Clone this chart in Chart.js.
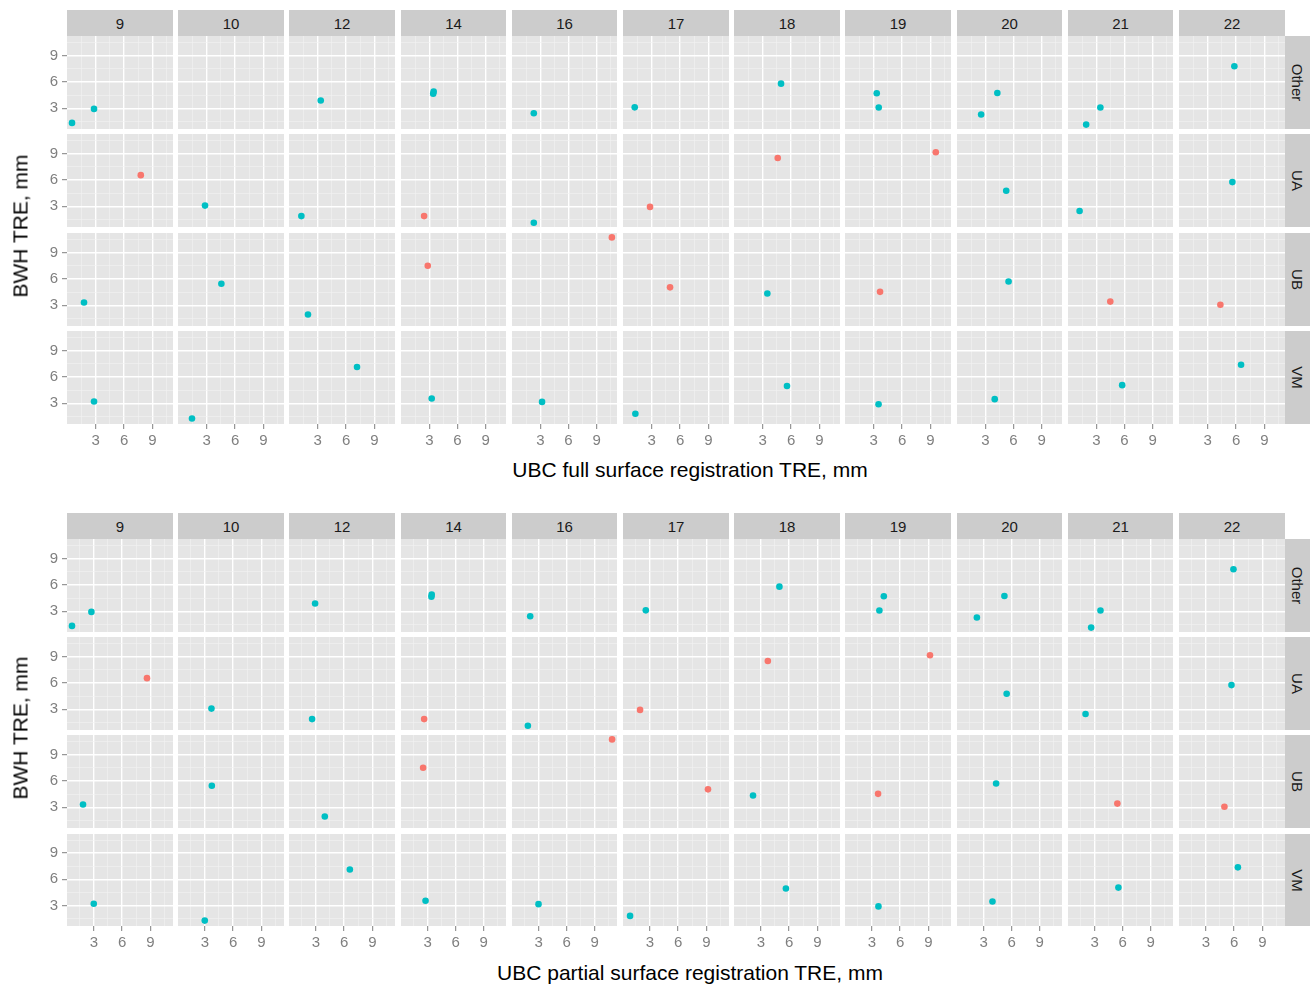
<!DOCTYPE html>
<html>
<head>
<meta charset="utf-8">
<script src="https://cdn.jsdelivr.net/npm/chart.js@4.4.1/dist/chart.umd.min.js"></script>
<style>
html,body{margin:0;padding:0;background:#fff;}
#root{position:relative;width:1312px;height:984px;overflow:hidden;font-family:"Liberation Sans",Arial,Helvetica,sans-serif;background:#fff;}
.strip{position:absolute;background:#CCCCCC;color:#1A1A1A;font-size:15px;display:flex;align-items:center;justify-content:center;overflow:hidden;}
.strip span{display:block;white-space:nowrap;line-height:1;}
.title{position:absolute;color:#000;font-size:21px;white-space:nowrap;line-height:1;}
</style>
</head>
<body>
<div id="root"></div>
<script>
// ---------------- data ----------------
const subjects = ['9','10','12','14','16','17','18','19','20','21','22'];
const regions = ['Other','UA','UB','VM'];
const tickLabels = [3, 6, 9];
const gridBreaks = [1.5, 3, 4.5, 6, 7.5, 9, 10.5];
const xTitles = ['UBC full surface registration TRE, mm', 'UBC partial surface registration TRE, mm'];
const yTitle = 'BWH TRE, mm';

const ptSubject = ['9','9','9','9','9',
  '10','10','10',
  '12','12','12','12',
  '14','14','14','14','14',
  '16','16','16','16',
  '17','17','17','17',
  '18','18','18','18',
  '19','19','19','19','19',
  '20','20','20','20','20',
  '21','21','21','21','21',
  '22','22','22','22'];
const ptRegion = ['Other','Other','UA','UB','VM',
  'UA','UB','VM',
  'Other','UA','UB','VM',
  'Other','Other','UA','UB','VM',
  'Other','UA','UB','VM',
  'Other','UA','UB','VM',
  'Other','UA','UB','VM',
  'Other','Other','UA','UB','VM',
  'Other','Other','UA','UB','VM',
  'Other','Other','UA','UB','VM',
  'Other','UA','UB','VM'];
const ptFullTRE = [0.49,2.82,7.77,1.76,2.82,
  2.82,4.55,1.44,
  3.32,1.27,1.97,7.16,
  3.45,3.40,2.43,2.82,3.24,
  2.29,2.29,10.63,3.17,
  1.20,2.82,4.94,1.27,
  4.94,4.59,3.49,5.57,
  3.32,3.53,9.57,3.67,3.51,
  4.27,2.54,5.22,5.47,3.99,
  3.42,1.90,1.20,4.48,5.75,
  5.82,5.61,4.34,6.53];
const ptPartialTRE = [0.68,2.74,8.64,1.85,2.99,
  3.70,3.74,2.99,
  2.92,2.60,3.95,6.61,
  3.44,3.41,2.63,2.52,2.78,
  2.10,1.85,10.87,2.99,
  2.57,1.96,9.17,0.90,
  4.97,3.74,2.17,5.66,
  4.27,3.80,9.17,3.66,3.70,
  5.23,2.28,5.47,4.34,3.95,
  3.63,2.63,2.03,5.44,5.55,
  5.93,5.72,4.97,6.40];
const ptBwhTRE = [1.33,2.92,6.53,3.30,3.20,
  3.07,5.43,1.26,
  3.88,1.88,1.95,7.12,
  4.88,4.65,1.88,7.48,3.53,
  2.43,1.12,10.70,3.15,
  3.10,2.92,5.03,1.80,
  5.79,8.47,4.33,4.95,
  4.70,3.08,9.13,4.52,2.89,
  4.73,2.28,4.76,5.69,3.46,
  3.08,1.14,2.45,3.41,5.05,
  7.77,5.74,3.05,7.37];
const ptGroup = ['B','B','A','B','B',
  'B','B','B',
  'B','B','B','B',
  'B','B','A','A','B',
  'B','B','A','B',
  'B','A','A','B',
  'B','A','B','B',
  'B','B','A','A','B',
  'B','B','B','B','B',
  'B','B','B','A','B',
  'B','B','A','B'];

// ---------------- styles / layout ----------------
const groupColors = {A:'#F8766D', B:'#00BFC4'};
const FONT = '"Liberation Sans", Arial, Helvetica, sans-serif';
const layout = {
  colLeft0: 67, colPitch: 111.2, colW: 105.6,
  yRange: [0.64, 11.2],
  panels: [
    {rowTop0: 35.7, rowPitch: 98.4, rowH: 93, stripTop: 10, xRange: [-0.04, 11.18], xTitleTop: 459, yTitleCenter: 226},
    {rowTop0: 539, rowPitch: 98.2, rowH: 92.8, stripTop: 513, xRange: [0.15, 11.4], xTitleTop: 962, yTitleCenter: 728}
  ],
  stripRightEnd: 1310,
  axisW: 40, axisH: 26
};

Chart.defaults.font.family = FONT;

const panelBg = {
  id: 'panelBg',
  beforeDraw(chart) {
    const {ctx, chartArea: a} = chart;
    ctx.save();
    ctx.fillStyle = '#E5E5E5';
    ctx.fillRect(a.left, a.top, a.right - a.left, a.bottom - a.top);
    ctx.restore();
  }
};

const isMajor = v => Math.abs(v / 3 - Math.round(v / 3)) < 1e-6 && tickLabels.includes(Math.round(v));
const root = document.getElementById('root');

function cellRect(p, ci, ri) {
  const P = layout.panels[p];
  const l = layout.colLeft0 + ci * layout.colPitch;
  const left = Math.round(l), right = Math.round(l + layout.colW);
  const t = P.rowTop0 + ri * P.rowPitch;
  const top = Math.round(t), bottom = Math.round(t + P.rowH);
  return {left, top, w: right - left, h: bottom - top};
}

function axisOpts(showLabels, range, isX, extra) {
  return {
    type: 'linear',
    min: range[0], max: range[1],
    bounds: 'data',
    afterBuildTicks: s => { s.ticks = gridBreaks.map(v => ({value: v})); },
    afterFit: s => {
      if (isX) s.height = extra; else s.width = extra;
      s.paddingTop = 0; s.paddingBottom = 0; s.paddingLeft = 0; s.paddingRight = 0;
    },
    grid: {
      color: c => (c.tick && isMajor(c.tick.value)) ? '#FFFFFF' : '#F2F2F2',
      lineWidth: c => (c.tick && isMajor(c.tick.value)) ? 1.4 : 0.6,
      drawTicks: showLabels,
      tickLength: 5,
      tickWidth: 1,
      tickColor: c => (c.tick && isMajor(c.tick.value)) ? '#7F7F7F' : 'rgba(0,0,0,0)'
    },
    border: {display: false},
    ticks: {
      display: showLabels,
      autoSkip: false,
      maxRotation: 0, minRotation: 0,
      padding: isX ? 3 : 4,
      color: '#7F7F7F',
      font: {family: FONT, size: 15},
      callback: v => isMajor(v) ? String(Math.round(v)) : ''
    }
  };
}

layout.panels.forEach((P, p) => {
  const xVals = p === 0 ? ptFullTRE : ptPartialTRE;
  subjects.forEach((subj, ci) => {
    regions.forEach((reg, ri) => {
      const r = cellRect(p, ci, ri);
      const extraL = ci === 0 ? layout.axisW : 0;
      const extraB = ri === regions.length - 1 ? layout.axisH : 0;
      const cv = document.createElement('canvas');
      cv.width = r.w + extraL; cv.height = r.h + extraB;
      cv.style.cssText = `position:absolute;left:${r.left - extraL}px;top:${r.top}px;width:${r.w + extraL}px;height:${r.h + extraB}px;`;
      root.appendChild(cv);
      const idx = [];
      ptSubject.forEach((s, i) => { if (s === subj && ptRegion[i] === reg) idx.push(i); });
      new Chart(cv, {
        type: 'scatter',
        data: {
          datasets: [{
            data: idx.map(i => ({x: xVals[i], y: ptBwhTRE[i]})),
            pointBackgroundColor: idx.map(i => groupColors[ptGroup[i]]),
            pointBorderWidth: 0,
            pointRadius: 3.3,
            pointHoverRadius: 3.3,
            clip: 4
          }]
        },
        options: {
          responsive: false,
          maintainAspectRatio: false,
          animation: false,
          events: [],
          layout: {padding: 0, autoPadding: false},
          plugins: {legend: {display: false}, tooltip: {enabled: false}},
          scales: {
            x: axisOpts(extraB > 0, P.xRange, true, extraB),
            y: axisOpts(extraL > 0, layout.yRange, false, extraL)
          }
        },
        plugins: [panelBg]
      });
    });
  });

  // column strips
  subjects.forEach((subj, ci) => {
    const r = cellRect(p, ci, 0);
    const d = document.createElement('div');
    d.className = 'strip';
    const top = Math.round(P.stripTop);
    d.style.cssText = `left:${r.left}px;top:${top}px;width:${r.w}px;height:${r.top - top}px;`;
    d.innerHTML = `<span>${subj}</span>`;
    root.appendChild(d);
  });
  // row strips
  regions.forEach((reg, ri) => {
    const r = cellRect(p, subjects.length - 1, ri);
    const d = document.createElement('div');
    d.className = 'strip';
    const left = r.left + r.w;
    d.style.cssText = `left:${left}px;top:${r.top}px;width:${layout.stripRightEnd - left}px;height:${r.h}px;`;
    d.innerHTML = `<span style="transform:rotate(90deg)">${reg}</span>`;
    root.appendChild(d);
  });
  // titles
  const xt = document.createElement('div');
  xt.className = 'title';
  xt.textContent = xTitles[p];
  xt.style.cssText = `left:690px;top:${P.xTitleTop}px;transform:translateX(-50%);`;
  root.appendChild(xt);
  const yt = document.createElement('div');
  yt.className = 'title';
  yt.textContent = yTitle;
  yt.style.cssText = `left:20px;top:${P.yTitleCenter}px;transform:translate(-50%,-50%) rotate(-90deg);`;
  root.appendChild(yt);
});
</script>
</body>
</html>
